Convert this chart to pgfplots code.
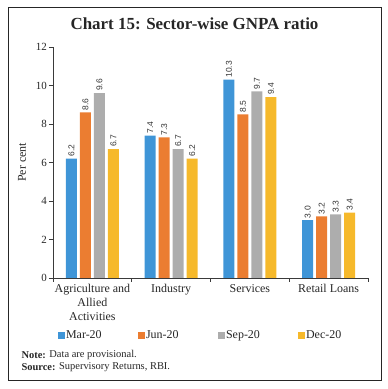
\documentclass[border=0pt]{standalone}
\usepackage{fontspec}
\setmainfont{Liberation Serif}
\newfontfamily\labelsans{Liberation Sans}
\usepackage{pgfplots}
\pgfplotsset{compat=1.18}
\definecolor{cblue}{HTML}{3F95D7}
\definecolor{corange}{HTML}{EB7D31}
\definecolor{cgray}{HTML}{ADADAD}
\definecolor{cyellow}{HTML}{F6B92B}
\definecolor{axgray}{HTML}{3A3A3A}
\begin{document}
\begin{tikzpicture}[x=1bp,y=1bp]
\path (0,0) rectangle (388,389);
\draw[line width=0.9bp, black!85] (8,9) rectangle (381,382);
\node[anchor=base, font=\fontsize{17}{20}\selectfont\bfseries, text=black!85] at (194.5,360) {Chart 15: Sector-wise GNPA ratio};
\begin{axis}[
  at={(53bp,111bp)}, anchor=south west,
  scale only axis, width=315bp, height=231bp,
  ybar=3bp, bar width=11bp,
  ymin=0, ymax=12, ytick={0,2,...,12},
  xmin=-0.5, xmax=3.5,
  xtick={0,1,2,3},
  xticklabels={{Agriculture and\\Allied\\Activities}, Industry, Services, Retail Loans},
  minor xtick={-0.5,0.5,1.5,2.5,3.5},
  major x tick style={draw=none},
  minor x tick style={draw=axgray, line width=0.8bp},
  minor tick length=4bp,
  major tick length=4bp,
  tick align=outside,
  ytick style={draw=axgray, line width=0.8bp},
  axis x line*=bottom, axis y line*=left,
  axis line style={draw=axgray, line width=0.8bp, -},
  /pgf/number format/assume math mode=true,
  yticklabel style={font=\fontsize{11}{12}\selectfont, inner sep=2bp, text=black!85},
  xticklabel style={font=\fontsize{12}{14}\selectfont, align=center, inner sep=2bp, text=black!85},
  ylabel={Per cent},
  ylabel style={at={(axis description cs:-0.098,0.5)}, anchor=center, font=\fontsize{12}{14}\selectfont, text=black!85},
  nodes near coords,
  nodes near coords style={rotate=90, anchor=west, inner sep=2bp, font=\labelsans\fontsize{8.5}{10}\selectfont, text=black!80,
    /pgf/number format/.cd, fixed, fixed zerofill, precision=1},
  legend style={at={(axis description cs:0.006,-0.2468)}, anchor=west, draw=none, fill=none,
    legend columns=4, font=\fontsize{12}{14}\selectfont,
    nodes={inner sep=1bp, text width=71bp, align=left, text=black!85}},
  legend image code/.code={\fill[#1] (0bp,-3.5bp) rectangle (7bp,3.5bp);},
]
\addplot[fill=cblue, draw=none] coordinates {(0,6.2) (1,7.4) (2,10.3) (3,3.0)};
\addplot[fill=corange, draw=none] coordinates {(0,8.6) (1,7.3) (2,8.5) (3,3.2)};
\addplot[fill=cgray, draw=none] coordinates {(0,9.6) (1,6.7) (2,9.7) (3,3.3)};
\addplot[fill=cyellow, draw=none] coordinates {(0,6.7) (1,6.2) (2,9.4) (3,3.4)};
\legend{Mar-20, Jun-20, Sep-20, Dec-20}
\end{axis}
\node[anchor=base west, font=\fontsize{10.5}{12}\selectfont, text=black!85] at (18,31) {\textbf{Note:} Data are provisional.};
\node[anchor=base west, font=\fontsize{10.5}{12}\selectfont, text=black!85] at (18,19) {\textbf{Source:} Supervisory Returns, RBI.};
\end{tikzpicture}
\end{document}
